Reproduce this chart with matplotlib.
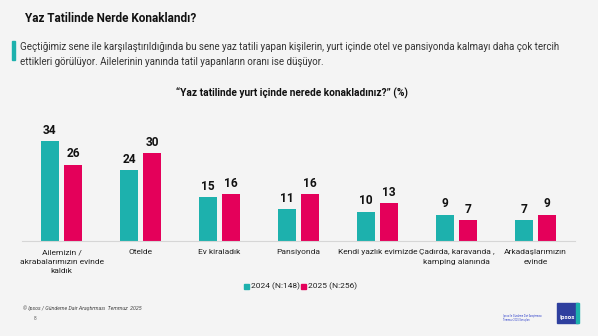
import matplotlib
matplotlib.use("Agg")
import matplotlib.pyplot as plt
from matplotlib.patches import Rectangle
import numpy as np

plt.rcParams['font.family'] = ['Roboto', 'DejaVu Sans']

categories = ["Ailemizin /\nakrabalarımızın evinde\nkaldık", "Otelde", "Ev kiraladık",
              "Pansiyonda", "Kendi yazlık evimizde", "Çadırda, karavanda ,\nkamping alanında",
              "Arkadaşlarımızın\nevinde"]
y2024 = [34, 24, 15, 11, 10, 9, 7]
y2025 = [26, 30, 16, 16, 13, 7, 9]
series_names = ["2024 (N:148)", "2025 (N:256)"]

teal = "#1DB1AD"
pink = "#E4005A"
W, H = 598, 336

fig = plt.figure(figsize=(W / 100, H / 100), dpi=100)
fig.patch.set_facecolor("#f4f4f4")

def px(x, y):
    return x / W, 1 - y / H

# axes: baseline at y=241, 2.94 px per unit, 0..40
ax = fig.add_axes([22 / W, 95 / H, (575 - 22) / W, 117.6 / H])
ax.set_facecolor("none")
x = np.arange(len(categories))
bw = 0.23
off = 0.146
ax.bar(x - off, y2024, bw, color=teal)
ax.bar(x + off, y2025, bw, color=pink)
for xi, a, b in zip(x, y2024, y2025):
    ax.text(xi - off, a + 1.4, str(a), ha="center", va="bottom", fontsize=8.6, fontweight="bold", color="#111")
    ax.text(xi + off, b + 1.4, str(b), ha="center", va="bottom", fontsize=8.6, fontweight="bold", color="#111")
ax.set_xlim(-0.5, len(categories) - 0.5)
ax.set_ylim(0, 40)
ax.set_yticks([])
ax.set_xticks(x)
ax.set_xticklabels(categories, fontsize=6, color="#222", linespacing=1.7)
ax.tick_params(axis="x", length=0, pad=6)
for s in ["top", "right", "left"]:
    ax.spines[s].set_visible(False)
ax.spines["bottom"].set_color("#d6d6d6")
ax.spines["bottom"].set_linewidth(0.8)

# header
fig.text(*px(25, 19), "Yaz Tatilinde Nerde Konaklandı?", fontsize=8.5, fontweight="bold", color="#111", va="center")
fig.patches.append(Rectangle(px(12, 60), 3 / W, 19 / H, transform=fig.transFigure, color=teal))
fig.text(*px(20, 47), "Geçtiğimiz sene ile karşılaştırıldığında bu sene yaz tatili yapan kişilerin, yurt içinde otel ve pansiyonda kalmayı daha çok tercih",
         fontsize=7.0, color="#333", va="center")
fig.text(*px(20, 62), "ettikleri görülüyor. Ailelerinin yanında tatil yapanların oranı ise düşüyor.",
         fontsize=7.0, color="#333", va="center")
fig.text(*px(292, 93), "“Yaz tatilinde yurt içinde nerede konakladınız?” (%)", fontsize=7.3, fontweight="bold",
         color="#111", ha="center", va="center")

# legend
fig.patches.append(Rectangle(px(244, 289), 5 / W, 5 / H, transform=fig.transFigure, color=teal))
fig.text(*px(251, 286), series_names[0], fontsize=6.0, color="#222", va="center")
fig.patches.append(Rectangle(px(301, 289), 5 / W, 5 / H, transform=fig.transFigure, color=pink))
fig.text(*px(308, 286), series_names[1], fontsize=6.0, color="#222", va="center")

# footer
fig.text(*px(23, 308), "© Ipsos / Gündeme Dair Araştırması  Temmuz  2025", fontsize=3.8, style="italic", color="#444", va="center")
fig.text(*px(34, 319), "8", fontsize=3.5, color="#666", va="center")
fig.text(*px(503, 318), "Ipsos ile Gündeme Dair Araştırması\nTemmuz 2025 Sonuçları", fontsize=1.8, color="#3344cc", va="center")
fig.patches.append(Rectangle(px(557, 323), 21 / W, 20 / H, transform=fig.transFigure, color="#2E3F9E"))
fig.patches.append(Rectangle(px(576, 323), 3 / W, 20 / H, transform=fig.transFigure, color=teal))
fig.text(*px(567, 318), "Ipsos", fontsize=4.5, fontweight="bold", color="white", ha="center", va="center")

fig.savefig("out.png", dpi=100, facecolor=fig.get_facecolor())
